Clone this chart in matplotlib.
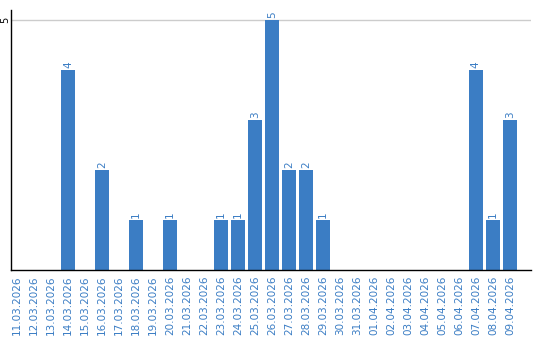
import matplotlib
matplotlib.use("Agg")
import matplotlib.pyplot as plt
import numpy as np

dates = ["11.03.2026", "12.03.2026", "13.03.2026", "14.03.2026", "15.03.2026",
         "16.03.2026", "17.03.2026", "18.03.2026", "19.03.2026", "20.03.2026",
         "21.03.2026", "22.03.2026", "23.03.2026", "24.03.2026", "25.03.2026",
         "26.03.2026", "27.03.2026", "28.03.2026", "29.03.2026", "30.03.2026",
         "31.03.2026", "01.04.2026", "02.04.2026", "03.04.2026", "04.04.2026",
         "05.04.2026", "06.04.2026", "07.04.2026", "08.04.2026", "09.04.2026"]
counts = [0, 0, 0, 4, 0, 2, 0, 1, 0, 1, 0, 0, 1, 1, 3, 5, 2, 2, 1, 0,
          0, 0, 0, 0, 0, 0, 0, 4, 1, 3]

blue = "#3b7dc4"
fig = plt.figure(figsize=(5.4, 3.4), dpi=100)
ax = fig.add_axes([11/540, 70/340, 520/540, 260/340])

x = np.arange(len(dates))
ax.bar(x, counts, width=0.82, color=blue, zorder=2)
for xi, v in zip(x, counts):
    if v > 0:
        ax.text(xi, v + 0.04, str(v), rotation=90, ha="center", va="bottom",
                color=blue, fontsize=7.5)

ax.set_xlim(-0.35, 30.24)
ax.set_ylim(0, 5.2)
ax.axhline(5, color="#cccccc", lw=1, zorder=1)
ax.set_yticks([5])
ax.set_yticklabels(["5"], rotation=90, va="center", fontsize=7)
ax.set_xticks(x)
ax.set_xticklabels(dates, rotation=90, color=blue, fontsize=7.5)
ax.tick_params(length=0, pad=4)
ax.tick_params(axis="y", pad=0.5)
for s in ["top", "right"]:
    ax.spines[s].set_visible(False)
ax.spines["left"].set_linewidth(1)
ax.spines["bottom"].set_linewidth(1)

fig.savefig("out.png", dpi=100)
